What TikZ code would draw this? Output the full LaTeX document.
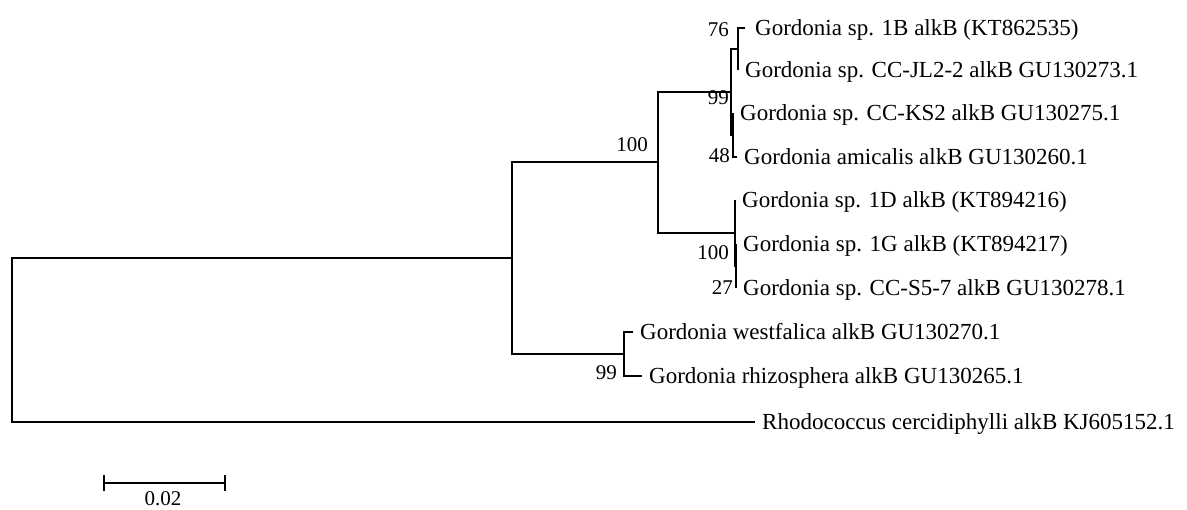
\documentclass[tikz,border=0pt]{standalone}
\usepackage{fontspec}
\setmainfont{Liberation Serif}
\begin{document}
\begin{tikzpicture}[x=1pt,y=-1pt,
  branch/.style={line width=1.6pt},
  leaf/.style={anchor=base west, inner sep=0pt, xshift=7pt, yshift=-7.5pt, font=\fontsize{23}{27}\selectfont},
  boot/.style={anchor=base east, inner sep=0pt, font=\fontsize{21}{25}\selectfont}]
\fill[white] (0,0) rectangle (1187,510);
\useasboundingbox (0,0) rectangle (1187,510);
% internal nodes
\coordinate (R) at (12,340);
\coordinate (A) at (512,258);
\coordinate (B) at (658,162);
\coordinate (W) at (624,354);
\coordinate (C) at (731,92);
\coordinate (D) at (738,49);
\coordinate (E) at (733,135);
\coordinate (F) at (735,233);
\coordinate (G) at (736,266);
% leaf ends
\coordinate (L1B) at (745,28);
\coordinate (LJL) at (738,70);
\coordinate (LKS) at (733,113);
\coordinate (Lami) at (737,157);
\coordinate (L1D) at (735,200);
\coordinate (L1G) at (736,244);
\coordinate (LS5) at (736,288);
\coordinate (Lwf) at (633,332);
\coordinate (Lrz) at (642,376);
\coordinate (Lrho) at (755,422);
% branches
\draw[branch] (R) |- (A);
\draw[branch] (R) |- (Lrho);
\draw[branch] (A) |- (B);
\draw[branch] (A) |- (W);
\draw[branch] (B) |- (C);
\draw[branch] (B) |- (F);
\draw[branch] (C) |- (D);
\draw[branch] (C) |- (E);
\draw[branch] (D) |- (L1B);
\draw[branch] (D) |- (LJL);
\draw[branch] (E) |- (LKS);
\draw[branch] (E) |- (Lami);
\draw[branch] (F) |- (L1D);
\draw[branch] (F) |- (G);
\draw[branch] (G) |- (L1G);
\draw[branch] (G) |- (LS5);
\draw[branch] (W) |- (Lwf);
\draw[branch] (W) |- (Lrz);
% leaf labels
\node[leaf,xshift=3pt] (t1B) at (L1B) {Gordonia sp. 1B alkB (KT862535)};
\node[leaf] (tJL) at (LJL) {Gordonia sp. CC-JL2-2 alkB GU130273.1};
\node[leaf] (tKS) at (LKS) {Gordonia sp. CC-KS2 alkB GU130275.1};
\node[leaf] (tami) at (Lami) {Gordonia amicalis alkB GU130260.1};
\node[leaf] (t1D) at (L1D) {Gordonia sp. 1D alkB (KT894216)};
\node[leaf] (t1G) at (L1G) {Gordonia sp. 1G alkB (KT894217)};
\node[leaf] (tS5) at (LS5) {Gordonia sp. CC-S5-7 alkB GU130278.1};
\node[leaf] (twf) at (Lwf) {Gordonia westfalica alkB GU130270.1};
\node[leaf] (trz) at (Lrz) {Gordonia rhizosphera alkB GU130265.1};
\node[leaf] (trho) at (Lrho) {Rhodococcus cercidiphylli alkB KJ605152.1};
% bootstrap values
\node[boot] (b76) at (729,37) {76};
\node[boot] (b99a) at (729,105) {99};
\node[boot] (b48) at (730,163) {48};
\node[boot] (b100a) at (648,152) {100};
\node[boot] (b100b) at (729,260) {100};
\node[boot] (b27) at (733,295) {27};
\node[boot] (b99b) at (617,380) {99};
% scale bar
\coordinate (sbL) at (104,483);
\coordinate (sbR) at (225,483);
\draw[branch] (sbL) -- (sbR);
\draw[branch] ([yshift=8pt]sbL) -- ([yshift=-8pt]sbL);
\draw[branch] ([yshift=8pt]sbR) -- ([yshift=-8pt]sbR);
\node[anchor=base, inner sep=0pt, font=\fontsize{21}{25}\selectfont] (sblab) at (163,506) {0.02};
\end{tikzpicture}
\end{document}
